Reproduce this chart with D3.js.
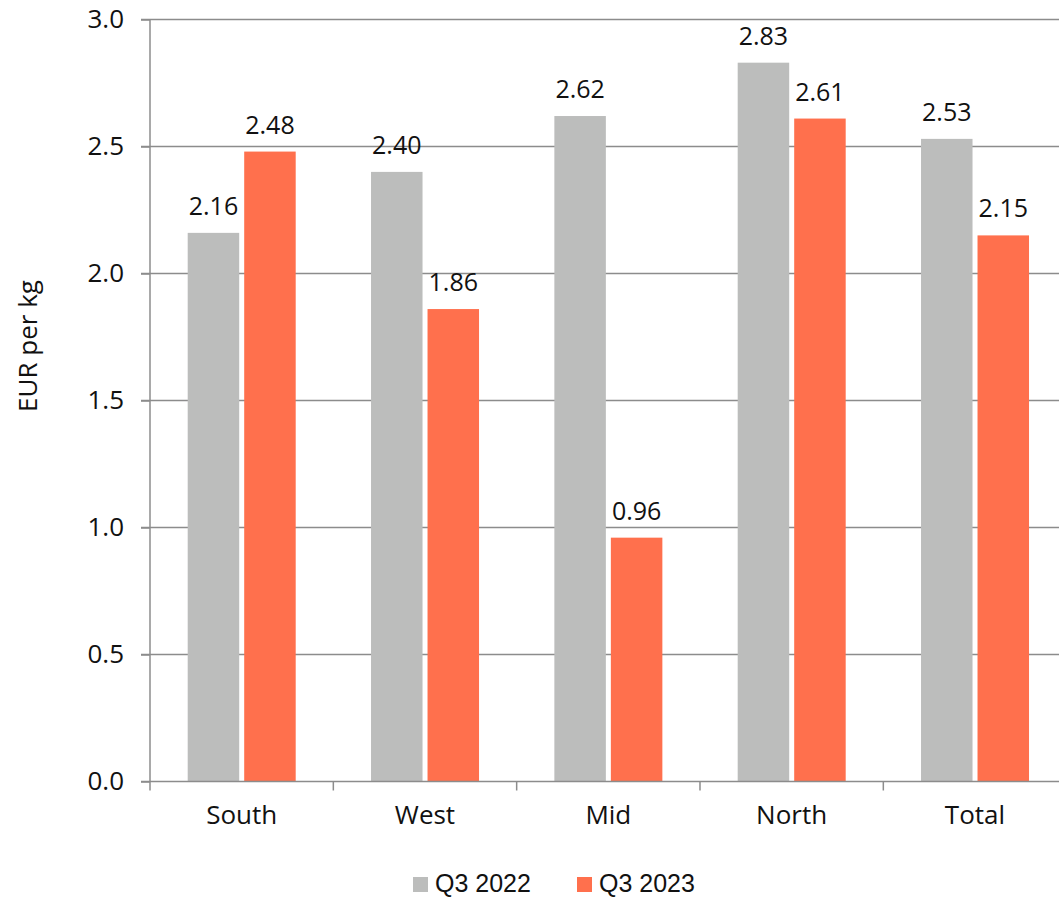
<!DOCTYPE html>
<html>
<head>
<meta charset="utf-8">
<script src="https://cdn.jsdelivr.net/npm/d3@7"></script>
<style>
  html, body { margin: 0; padding: 0; background: #fff; }
  svg { display: block; }
</style>
</head>
<body>
<svg id="chart" width="1059" height="899"></svg>
<script>
const categories = ["South", "West", "Mid", "North", "Total"];
const seriesNames = ["Q3 2022", "Q3 2023"];
const q3_2022 = [2.16, 2.40, 2.62, 2.83, 2.53];
const q3_2023 = [2.48, 1.86, 0.96, 2.61, 2.15];
const yTicks = [0, 0.5, 1.0, 1.5, 2.0, 2.5, 3.0];
const colors = ["#BCBDBC", "#FF704D"];
const yTitle = "EUR per kg";

(function () {
const svg = d3.select("#chart");
const font = "'Open Sans', 'DejaVu Sans', sans-serif";
const plotLeft = 150, plotTop = 19.5, plotBottom = 781.5, step = 183.33;

const x0 = d3.scaleBand().domain(categories).range([plotLeft, plotLeft + step * categories.length]).padding(0);
const x1 = d3.scaleBand().domain(seriesNames).range([37.7, 145.7]).paddingInner(0.0885).paddingOuter(0);
const y = d3.scaleLinear().domain([0, 3]).range([plotBottom, plotTop]);

// gridlines
svg.append("g").selectAll("line").data(yTicks.filter(d => d > 0)).join("line")
  .attr("x1", plotLeft - 9).attr("x2", 1059)
  .attr("y1", d => y(d)).attr("y2", d => y(d))
  .attr("stroke", "#8c8c8c").attr("stroke-width", 1.5);

// bars
const data = categories.map((c, i) => ({c, vals: [q3_2022[i], q3_2023[i]]}));
const groups = svg.append("g").selectAll("g").data(data).join("g")
  .attr("transform", d => `translate(${x0(d.c)},0)`);
groups.selectAll("rect").data(d => d.vals.map((v, j) => ({s: seriesNames[j], v, j}))).join("rect")
  .attr("x", d => x1(d.s)).attr("width", x1.bandwidth())
  .attr("y", d => y(d.v)).attr("height", d => y(0) - y(d.v))
  .attr("fill", d => colors[d.j]);
groups.selectAll("text").data(d => d.vals.map((v, j) => ({s: seriesNames[j], v, j}))).join("text")
  .attr("x", d => x1(d.s) + x1.bandwidth() / 2)
  .attr("y", d => y(d.v) - 18)
  .attr("text-anchor", "middle")
  .attr("font-family", font).attr("font-size", 25).attr("fill", "#111")
  .text(d => d.v.toFixed(2));

// y axis
const yAxis = d3.axisLeft(y).tickValues(yTicks).tickFormat(d3.format(".1f")).tickSize(9).tickPadding(17);
const ya = svg.append("g").attr("transform", `translate(${plotLeft},0)`).call(yAxis);
ya.select(".domain").attr("stroke", "#8c8c8c").attr("stroke-width", 1.5).attr("d", `M0,${plotTop}V${plotBottom}`);
ya.selectAll(".tick line").attr("stroke", "#8c8c8c").attr("stroke-width", 1.5);
ya.selectAll(".tick text").attr("font-family", font).attr("font-size", 26).attr("fill", "#111");

// x axis
const xAxis = d3.axisBottom(x0).tickSize(0).tickPadding(24);
const xa = svg.append("g").attr("transform", `translate(0,${plotBottom})`).call(xAxis);
xa.select(".domain").attr("stroke", "#8c8c8c").attr("stroke-width", 1.5).attr("d", `M${plotLeft - 9},0H1059`);
xa.selectAll(".tick text").attr("font-family", font).attr("font-size", 26).attr("fill", "#111");
// x tick marks at category boundaries
svg.append("g").selectAll("line").data(d3.range(categories.length + 1)).join("line")
  .attr("x1", i => plotLeft + i * x0.step()).attr("x2", i => plotLeft + i * x0.step())
  .attr("y1", plotBottom).attr("y2", plotBottom + 9)
  .attr("stroke", "#8c8c8c").attr("stroke-width", 1.5);

// y title
svg.append("text").attr("transform", `translate(37,346) rotate(-90)`)
  .attr("text-anchor", "middle").attr("font-family", font).attr("font-size", 26).attr("fill", "#111")
  .text(yTitle);

// legend
const leg = svg.append("g").selectAll("g").data(seriesNames).join("g")
  .attr("transform", (d, i) => `translate(${413 + i * 164},877)`);
leg.append("rect").attr("width", 15).attr("height", 15).attr("fill", (d, i) => colors[i]);
leg.append("text").attr("x", 22).attr("y", 15)
  .attr("font-family", "'Liberation Sans', Arial, sans-serif").attr("font-size", 25).attr("fill", "#111")
  .text(d => d);
})();
</script>
</body>
</html>
